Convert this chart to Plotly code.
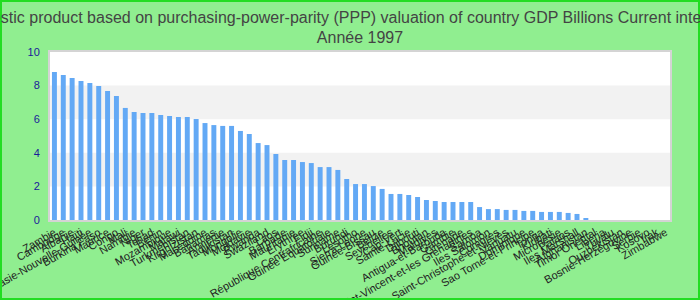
import plotly.graph_objects as go

countries = [
    "Zambie", "Cambodge", "Albanie", "Haïti", "Papouasie-Nouvelle-Guinée", "Burkina Faso",
    "Maurice", "Congo", "Mali", "Namibie", "Niger", "Tchad", "Bénin", "Mozambique",
    "Malawi", "Turkménistan", "Kirghizistan", "Macédoine", "Bahamas", "Arménie",
    "Tadjikistan", "Mongolie", "Moldavie", "Rwanda", "Swaziland", "Laos", "Barbade",
    "Mauritanie", "Erythrée", "Fidji", "République Centrafricaine", "Guinée Equatoriale",
    "Suriname", "Burundi", "Lesotho", "Sierra Leone", "Guinée-Bissau", "Belize",
    "Seychelles", "Cap-Vert", "Sainte-Lucie", "Djibouti", "Bhoutan", "Maldives",
    "Antigua-et-Barbuda", "Gambie", "Grenade", "Saint-Vincent-et-les Grenadines", "Samoa",
    "Iles Salomon", "Comores", "Saint-Christophe-et-Niévès", "Vanuatu", "Dominique",
    "Sao Tomé-et-Principe", "Tonga", "Kiribati", "Micronésie", "Palaos", "Iles Marshall",
    "Afghanistan", "Timor Oriental", "Libéria", "Tuvalu", "Ouzbékistan",
    "Bosnie-Herzégovine", "Serbie", "Kosovo", "Irak", "Zimbabwe",
]

values = [
    8.81, 8.63, 8.45, 8.27, 8.15, 7.98, 7.68, 7.38, 6.67, 6.43,
    6.37, 6.37, 6.25, 6.19, 6.13, 6.13, 6.01, 5.77, 5.65, 5.60,
    5.60, 5.30, 5.12, 4.58, 4.46, 3.93, 3.57, 3.57, 3.45, 3.39,
    3.15, 3.15, 2.98, 2.44, 2.14, 2.14, 2.02, 1.85, 1.55, 1.55,
    1.49, 1.37, 1.19, 1.13, 1.07, 1.07, 1.07, 1.07, 0.77, 0.65,
    0.65, 0.60, 0.60, 0.54, 0.54, 0.48, 0.48, 0.48, 0.42, 0.36,
    0.12, None, None, None, None, None, None, None, None, None,
]

y_ticks = [0, 2, 4, 6, 8, 10]
bands = [(2, 4), (6, 8)]

title_text = ("Gross domestic product based on purchasing-power-parity (PPP) valuation of "
              "country GDP Billions Current international dollar<br>Année 1997")

fig = go.Figure(go.Bar(x=countries, y=values, marker=dict(color="#63a9f5", line=dict(width=0))))

shapes = []
for y0, y1 in bands:
    shapes.append(dict(type="rect", xref="paper", yref="y", x0=0, x1=1, y0=y0, y1=y1,
                       fillcolor="#f2f2f2", line=dict(width=0), layer="below"))
L, R, T, B = 50, 30, 52, 80
pw, ph = 700 - L - R, 300 - T - B
shapes.append(dict(type="rect", xref="paper", yref="paper",
                   x0=(1 - L) / pw, x1=(699 - L) / pw,
                   y0=(300 - B - 299) / ph, y1=(300 - B - 1) / ph,
                   line=dict(color="#22dd22", width=2), fillcolor="rgba(0,0,0,0)", layer="above"))

fig.update_layout(
    width=700, height=300,
    paper_bgcolor="#90ee90", plot_bgcolor="#ffffff",
    margin=dict(l=L, r=R, t=T, b=B),
    bargap=0.44,
    showlegend=False,
    shapes=shapes,
    title=dict(text=title_text, x=0.5, xref="paper", xanchor="center", y=0.925, yanchor="top",
               font=dict(family="Liberation Sans Narrow, Arial Narrow, Liberation Sans", size=16, color="#444444")),
    font=dict(family="Liberation Sans, Arial", size=11, color="#222222"),
)
fig.update_xaxes(tickmode="array", tickvals=countries, ticktext=countries,
                 tickangle=-30, automargin=False, showgrid=False, showline=True, mirror=True,
                 linecolor="#d4d4d4", linewidth=2, ticks="", tickfont=dict(size=11, color="#222222"),
                 range=[-0.5, len(countries) - 0.5])
fig.update_yaxes(range=[0, 10], tickvals=y_ticks, showgrid=False, zeroline=False, showline=True,
                 mirror=True, linecolor="#d4d4d4", linewidth=2, automargin=False,
                 ticklabelstandoff=6,
                 tickfont=dict(size=11, color="#1a1a9a"))

fig.write_html("out.html")
